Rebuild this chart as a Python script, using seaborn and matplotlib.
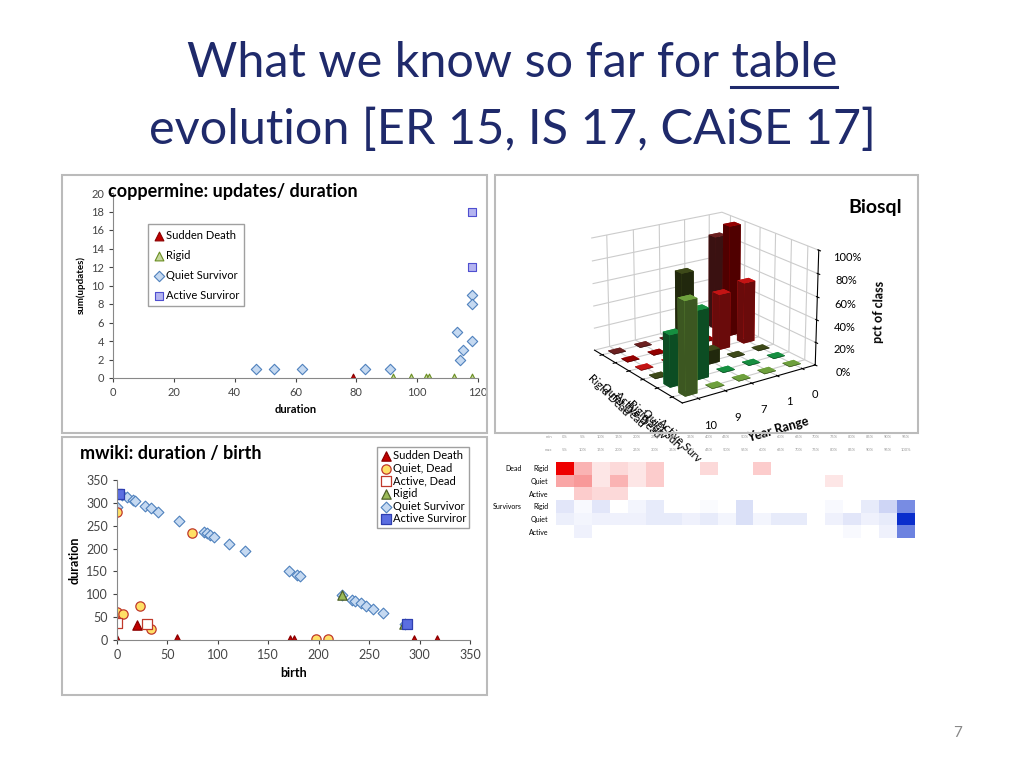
import numpy as np
import pandas as pd
import matplotlib
matplotlib.use("Agg")
import matplotlib.pyplot as plt
import seaborn as sns
from matplotlib.colors import LinearSegmentedColormap
from matplotlib.patches import Rectangle
from mpl_toolkits.mplot3d import Axes3D  # noqa

# ---------------- data ----------------
cop_sudden_x = [79]; cop_sudden_y = [0]
cop_rigid_x = [92, 98, 103, 104, 112, 118]; cop_rigid_y = [0, 0, 0, 0, 0, 0]
cop_quiet_x = [47, 53, 62, 83, 91, 113, 114, 115, 118, 118, 118]
cop_quiet_y = [1, 1, 1, 1, 1, 5, 2, 3, 9, 8, 4]
cop_active_x = [118, 118]; cop_active_y = [18, 12]

mw_sudden_x = [0, 20, 59, 172, 175, 294, 317]
mw_sudden_y = [0, 32, 3, 0, 0, 0, 0]
mw_qdead_x = [0, 0, 0, 6, 23, 34, 74, 197, 209]
mw_qdead_y = [280, 62, 40, 56, 74, 24, 234, 3, 2]
mw_adead_x = [0, 30]; mw_adead_y = [38, 35]
mw_rigid_x = [223, 285]; mw_rigid_y = [98, 35]
mw_qsurv_x = [0, 5, 10, 16, 18, 28, 34, 41, 61, 86, 89, 92, 96, 111, 127, 171, 178, 181,
              223, 233, 236, 242, 247, 254, 264, 286]
mw_qsurv_y = [290, 318, 312, 306, 305, 293, 288, 281, 260, 236, 233, 230, 226, 211, 195,
              150, 143, 140, 98, 88, 86, 80, 75, 68, 58, 36]
mw_asurv_x = [0, 2, 288]; mw_asurv_y = [320, 320, 35]

bio_classes = ["Rigid Dead", "Quiet Dead", "Active Dead", "Rigid Surv", "Quiet Surv", "Active Surv"]
bio_years = ["0", "1", "7", "9", "10"]
bio_rigid_dead = [85, 5, 0, 0, 0]
bio_quiet_dead = [100, 0, 0, 0, 0]
bio_active_dead = [55, 50, 0, 0, 0]
bio_rigid_surv = [0, 0, 12, 85, 0]
bio_quiet_surv = [0, 0, 0, 60, 45]
bio_active_surv = [0, 0, 0, 0, 80]
bio_colors = ["#8B2A2A", "#C00000", "#FF1A1A", "#4F5F20", "#1DB954", "#8FD14F"]

hm_min = [f"{i*5}%" for i in range(20)]
hm_max = [f"{(i+1)*5}%" for i in range(20)]
hm_dead_rigid = [1.0, .30, .10, .15, .10, .20, 0, 0, .15, 0, 0, .20, 0, 0, 0, 0, 0, 0, 0, 0]
hm_dead_quiet = [.35, .40, .10, .30, .10, .20, 0, 0, 0, 0, 0, 0, 0, 0, 0, .10, 0, 0, 0, 0]
hm_dead_active = [0, .20, .15, .15, 0, 0, 0, 0, 0, 0, 0, 0, 0, 0, 0, 0, 0, 0, 0, 0]
hm_surv_rigid = [.12, .03, .12, 0, .05, .10, 0, 0, .02, 0, .15, 0, 0, 0, 0, .03, 0, .10, .20, .55]
hm_surv_quiet = [.08, .05, .07, .07, .07, .10, .10, .07, .10, .05, .15, .05, .10, .10, 0, .07, .12, .07, .10, 1.0]
hm_surv_active = [0, .07, 0, 0, 0, 0, 0, 0, 0, 0, 0, 0, 0, 0, 0, 0, .03, 0, .07, .60]

# ---------------- figure ----------------
fig = plt.figure(figsize=(10.24, 7.68), dpi=100)
fig.patch.set_facecolor("white")
plt.rcParams["font.family"] = "Lato"

navy = "#1F2A6B"
t1 = fig.text(0.5, 1 - 63/768, "What we know so far for table", ha="center", va="center",
              fontsize=35, color=navy)
fig.text(0.5, 1 - 130/768, "evolution [ER 15, IS 17, CAiSE 17]", ha="center", va="center",
         fontsize=35, color=navy)
fig.canvas.draw()
r = fig.canvas.get_renderer()
bb = t1.get_window_extent(r)
tmp = fig.text(0, 0, "table", fontsize=35)
wt = tmp.get_window_extent(r).width
tmp.remove()
fig.add_artist(plt.Line2D([(bb.x1 - wt)/1024, bb.x1/1024], [bb.y0/768 - 0.003]*2,
                          color=navy, lw=2.2, transform=fig.transFigure))
fig.text(958/1024, 1 - 733/768, "7", ha="center", va="center", fontsize=11, color="#888888")

for (x0, y0, x1, y1) in [(62, 175, 487, 433), (62, 437, 487, 695), (495, 175, 918, 433)]:
    fig.add_artist(Rectangle((x0/1024, 1 - y1/768), (x1-x0)/1024, (y1-y0)/768,
                             transform=fig.transFigure, fill=False, ec="#BBBBBB", lw=1.5))

def style(ax):
    for s in ["top", "right"]:
        ax.spines[s].set_visible(False)
    for s in ["left", "bottom"]:
        ax.spines[s].set_color("#888888")
    ax.tick_params(colors="#444444", labelsize=8, length=3)

# ---- coppermine ----
ax1 = fig.add_axes([113/1024, 1 - 378/768, 365/1024, 185/768])
kw = dict(ax=ax1, s=40, linewidth=0.8)
sns.scatterplot(x=cop_sudden_x, y=cop_sudden_y, marker="^", color="#C00000", edgecolor="#8B0000", label="Sudden Death", **kw)
sns.scatterplot(x=cop_rigid_x, y=cop_rigid_y, marker="^", color="#C4D79B", edgecolor="#6B8E23", label="Rigid", **kw)
sns.scatterplot(x=cop_quiet_x, y=cop_quiet_y, marker="D", color="#C5D9F1", edgecolor="#4F81BD", label="Quiet Survivor", s=28, linewidth=0.8, ax=ax1)
sns.scatterplot(x=cop_active_x, y=cop_active_y, marker="s", color="#B4B4F0", edgecolor="#4F4FD0", label="Active Surviror", **kw)
ax1.set_xlim(0, 120); ax1.set_ylim(0, 20)
ax1.set_xticks(range(0, 121, 20)); ax1.set_yticks(range(0, 21, 2))
ax1.set_xlabel("duration", fontsize=8, fontweight="bold")
ax1.set_ylabel("sum(updates)", fontsize=7, fontweight="bold")
style(ax1)
leg = ax1.legend(loc="upper left", bbox_to_anchor=(0.08, 0.86), fontsize=8, frameon=True,
                 fancybox=False, handletextpad=0.1, borderpad=0.5, labelspacing=0.8, handlelength=1)
leg.get_frame().set_edgecolor("#888888")
fig.text(108/1024, 1 - 192/768, "coppermine: updates/ duration", fontsize=13, fontweight="bold", va="center")

# ---- mwiki ----
ax2 = fig.add_axes([117/1024, 1 - 640/768, 353/1024, 160/768])
kw = dict(ax=ax2, s=45, linewidth=0.9)
sns.scatterplot(x=mw_qsurv_x, y=mw_qsurv_y, marker="D", color="#C5D9F1", edgecolor="#4F81BD", label="Quiet Survivor", s=30, linewidth=0.8, ax=ax2)
sns.scatterplot(x=mw_sudden_x, y=mw_sudden_y, marker="^", color="#C00000", edgecolor="#8B0000", label="Sudden Death", **kw)
sns.scatterplot(x=mw_qdead_x, y=mw_qdead_y, marker="o", color="#FFE066", edgecolor="#C0392B", label="Quiet, Dead", **kw)
sns.scatterplot(x=mw_adead_x, y=mw_adead_y, marker="s", color="white", edgecolor="#C0392B", label="Active, Dead", **kw)
sns.scatterplot(x=mw_rigid_x, y=mw_rigid_y, marker="^", color="#9BBB59", edgecolor="#4F6228", label="Rigid", **kw)
sns.scatterplot(x=mw_asurv_x, y=mw_asurv_y, marker="s", color="#5B6EE1", edgecolor="#2F3FB0", label="Active Surviror", **kw)
ax2.set_xlim(0, 350); ax2.set_ylim(0, 350)
ax2.set_xticks(range(0, 351, 50)); ax2.set_yticks(range(0, 351, 50))
ax2.set_xlabel("birth", fontsize=9, fontweight="bold")
ax2.set_ylabel("duration", fontsize=9, fontweight="bold")
style(ax2); ax2.tick_params(labelsize=9)
h, l = ax2.get_legend_handles_labels()
order = ["Sudden Death", "Quiet, Dead", "Active, Dead", "Rigid", "Quiet Survivor", "Active Surviror"]
hd = dict(zip(l, h))
leg2 = fig.legend([hd[k] for k in order], order, loc="upper right", bbox_to_anchor=(475/1024, 1 - 441/768),
                  fontsize=8, frameon=True, fancybox=False, handletextpad=0.1, borderpad=0.3,
                  labelspacing=0.15, handlelength=1)
leg2.get_frame().set_edgecolor("#888888")
ax2.get_legend().remove()
fig.text(80/1024, 1 - 454/768, "mwiki: duration / birth", fontsize=13, fontweight="bold", va="center")

# ---- Biosql 3D ----
ax3 = fig.add_axes([500/1024, 1 - 430/768, 400/1024, 250/768], projection="3d")
series = [bio_rigid_dead, bio_quiet_dead, bio_active_dead, bio_rigid_surv, bio_quiet_surv, bio_active_surv]
for ci, vals in enumerate(series):
    for yi, v in enumerate(vals):
        ax3.bar3d(ci, yi, 0, 0.45, 0.45, max(v, 0.5), color=bio_colors[ci], shade=True)
ax3.set_xticks(np.arange(len(bio_classes)) + 0.2)
ax3.set_xticklabels(bio_classes, fontsize=8, rotation=-45, ha="left")
ax3.set_yticks(np.arange(len(bio_years)) + 0.2)
ax3.set_yticklabels(bio_years, fontsize=8)
ax3.set_zticks([0, 20, 40, 60, 80, 100])
ax3.set_zticklabels(["0%", "20%", "40%", "60%", "80%", "100%"], fontsize=8)
ax3.set_zlim(0, 100)
ax3.set_ylabel("Year Range", fontsize=9, fontweight="bold")
ax3.set_zlabel("pct of class", fontsize=9, fontweight="bold")
ax3.invert_yaxis()
ax3.view_init(elev=20, azim=-35)
for a in (ax3.xaxis, ax3.yaxis, ax3.zaxis):
    a.set_pane_color((1, 1, 1, 0))
    a._axinfo["grid"]["color"] = "#CCCCCC"
fig.text(875/1024, 1 - 207/768, "Biosql", fontsize=14, fontweight="bold", ha="center", va="center")

# ---- heatmap ----
ax4 = fig.add_axes([556/1024, 1 - 538/768, 359/1024, 76/768])
rows = ["Rigid", "Quiet", "Active", "Rigid ", "Quiet ", "Active "]
mat = pd.DataFrame([hm_dead_rigid, hm_dead_quiet, hm_dead_active,
                    hm_surv_rigid, hm_surv_quiet, hm_surv_active], index=rows, columns=hm_max)
dead_mask = np.zeros(mat.shape, bool); dead_mask[3:] = True
reds = LinearSegmentedColormap.from_list("r", ["#FFFFFF", "#EE0000"])
blues = LinearSegmentedColormap.from_list("b", ["#FFFFFF", "#0A2ECC"])
sns.heatmap(mat, mask=dead_mask, cmap=reds, vmin=0, vmax=1, cbar=False, ax=ax4,
            xticklabels=False, yticklabels=False)
sns.heatmap(mat, mask=~dead_mask, cmap=blues, vmin=0, vmax=1, cbar=False, ax=ax4,
            xticklabels=False, yticklabels=False)
ax4.set_xticks([])
ax4.set_yticks(np.arange(len(rows)) + 0.5)
ax4.set_yticklabels([r_.strip() for r_ in rows], rotation=0, fontsize=5)
ax4.tick_params(left=False, labelsize=5, pad=2)
for i, (a, b) in enumerate(zip(hm_min, hm_max)):
    ax4.text(i + 0.5, -1.9, a, fontsize=3, color="#999999", ha="center")
    ax4.text(i + 0.5, -0.9, b, fontsize=3, color="#999999", ha="center")
ax4.text(-0.2, -1.9, "min", fontsize=3, color="#999999", ha="right")
ax4.text(-0.2, -0.9, "max", fontsize=3, color="#999999", ha="right")
ax4.text(-1.9, 0.5, "Dead", fontsize=5, ha="right", va="center")
ax4.text(-1.9, 3.5, "Survivors", fontsize=5, ha="right", va="center")

fig.savefig("out.png", dpi=100)
